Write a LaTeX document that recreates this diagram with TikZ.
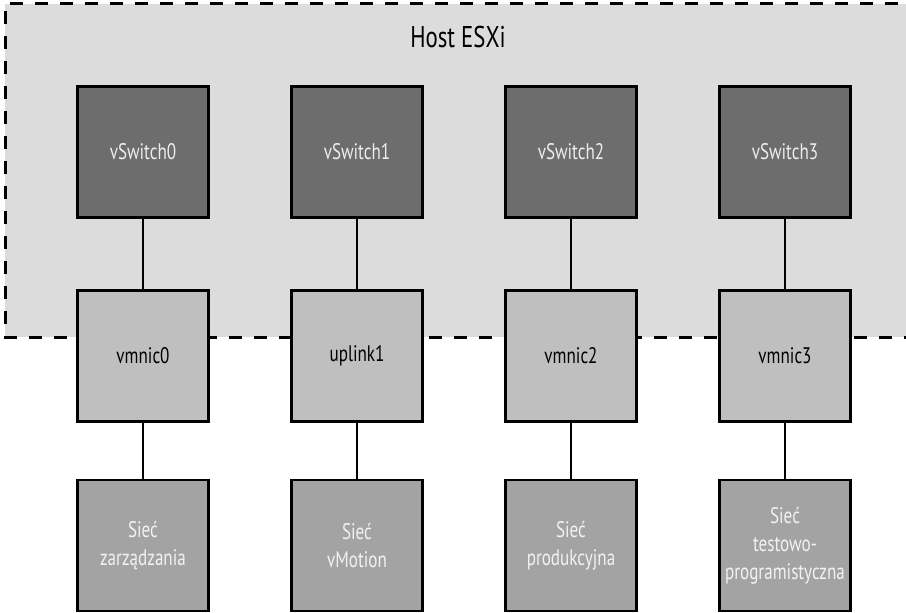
\documentclass[tikz,border=0pt]{standalone}
\usepackage{fontspec}
\setmainfont[FakeStretch=0.76]{PT Sans}
\definecolor{hostbg}{HTML}{DCDCDC}
\definecolor{swfill}{HTML}{6D6D6D}
\definecolor{nicfill}{HTML}{BFBFBF}
\definecolor{netfill}{HTML}{A3A3A3}
\begin{document}
\begin{tikzpicture}[x=1bp,y=-1bp,
  boxbase/.style={draw=black, line width=2.6bp, minimum width=131bp, minimum height=131bp, inner sep=0pt, align=center, font=\fontsize{22.5bp}{28bp}\selectfont},
  swbox/.style={boxbase, fill=swfill, text=white!93!black},
  nicbox/.style={boxbase, fill=nicfill, text=black},
  netbox/.style={boxbase, fill=netfill, text=white!95!black},
  link/.style={draw=black, line width=2.2bp}]
\useasboundingbox (0,0) rectangle (906,613);
% host area
\fill[hostbg] (5,4) rectangle (906,337);
\draw[line width=3bp, dash pattern=on 13bp off 12bp] (898,4) -- (5,4) -- (5,337) -- (906,337);
\node[font=\fontsize{30bp}{34bp}\selectfont] (host) at (458,37) {Host ESXi};
% columns
\foreach \i/\x/\nic/\net in {0/143/vmnic0/{Sieć\\zarządzania},1/357/uplink1/{Sieć\\vMotion},2/571/vmnic2/{Sieć\\produkcyjna},3/785/vmnic3/{Sieć\\testowo-\\programistyczna}}{
  \node[swbox] (sw\i) at (\x,152) {vSwitch\i};
  \node[nicbox] (nic\i) at (\x,356) {\nic};
  \node[netbox] (net\i) at (\x,545.5) {\net};
  \draw[link] (sw\i.south) -- (nic\i.north);
  \draw[link] (nic\i.south) -- (net\i.north);
}
\end{tikzpicture}
\end{document}
